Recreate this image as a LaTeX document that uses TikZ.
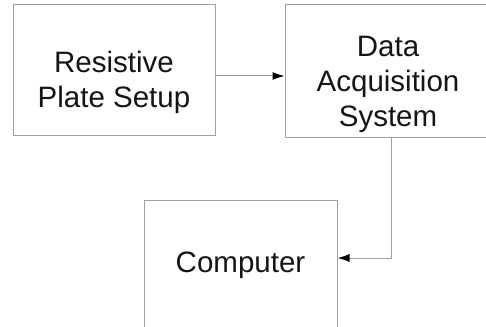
\documentclass[tikz,border=0pt]{standalone}
\usepackage{fontspec}
\setmainfont{Liberation Sans}
\usetikzlibrary{arrows.meta}
\definecolor{linegray}{HTML}{A0A0A0}
\definecolor{txt}{HTML}{151515}
\begin{document}
\begin{tikzpicture}[x=1pt,y=-1pt,
  blockbox/.style={draw=linegray,line width=1pt,inner sep=0pt},
  lbl/.style={align=center,text=txt,font=\fontsize{29.5}{35}\selectfont,inner sep=0pt},
  conn/.style={draw=linegray,line width=1pt,-{Latex[length=12pt,width=8pt,color=black]}}]
\useasboundingbox (0,0) rectangle (486,326);
\clip (0,0) rectangle (486,326);
\fill[white] (0,0) rectangle (486,326);
\node[blockbox,minimum width=202pt,minimum height=130pt] (rps) at (114,70) {};
\node[lbl] (rpst) at ([yshift=-12pt]rps.center) {Resistive\\Plate Setup};
\node[blockbox,minimum width=212pt,minimum height=132pt] (das) at (391,71) {};
\node[lbl] (dast) at ([xshift=-3pt,yshift=-13pt]das.center) {Data\\Acquisition\\System};
\node[blockbox,minimum width=193pt,minimum height=130pt] (comp) at (240.5,265) {};
\node[lbl] (compt) at (comp.center) {Computer};
\draw[conn] ([yshift=-6pt]rps.east) -- ([yshift=-6pt]rps.east -| das.west);
\draw[conn] (das.south) |- ([yshift=7pt]comp.east);
\end{tikzpicture}
\end{document}
